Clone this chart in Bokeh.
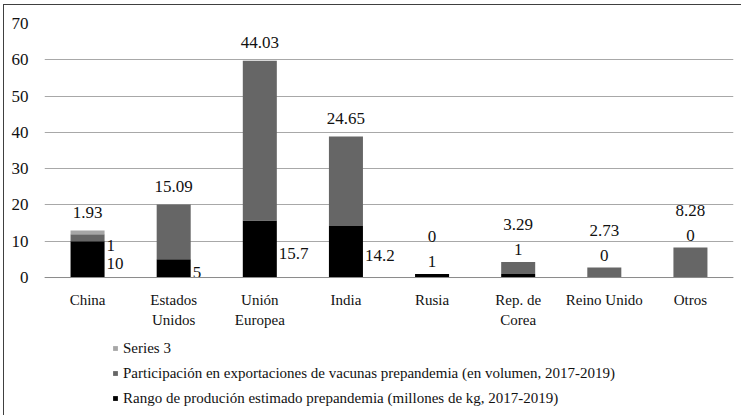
from bokeh.plotting import figure
from bokeh.models import (ColumnDataSource, Legend, LegendItem, Range1d, FactorRange,
                          FixedTicker, Span)
from bokeh.core.properties import value
from bokeh.embed import file_html
from bokeh.resources import INLINE

categories = ["China", "Estados Unidos", "Unión Europea", "India", "Rusia",
              "Rep. de Corea", "Reino Unido", "Otros"]
label_line1 = ["China", "Estados", "Unión", "India", "Rusia", "Rep. de", "Reino Unido", "Otros"]
label_line2 = ["", "Unidos", "Europea", "", "", "Corea", "", ""]
produccion = [10, 5, 15.7, 14.2, 1, 1, 0, 0]
exportaciones = [1.93, 15.09, 44.03, 24.65, 0, 3.29, 2.73, 8.28]
series3 = [1, 0, 0, 0, 0, 0, 0, 0]
y_ticks = [0, 10, 20, 30, 40, 50, 60, 70]

name_prod = "Rango de produción estimado prepandemia (millones de kg, 2017-2019)"
name_exp = "Participación en exportaciones de vacunas prepandemia (en volumen, 2017-2019)"
name_s3 = "Series 3"

FONT = "Liberation Serif"
TXT = "#111111"
C_PROD = "#000000"
C_EXP = "#666666"
C_S3 = "#a6a6a6"

def fmt(v):
    return f"{v:g}"

zeros = [0] * len(categories)
src = ColumnDataSource(dict(cat=categories, prod=produccion, exp=exportaciones, s3=series3))

# the frame extends below zero so category labels and legend sit inside it
p = figure(x_range=FactorRange(*categories), y_range=Range1d(-38.3, 70),
           width=738, height=411, output_backend="svg", toolbar_location=None,
           min_border_left=40, min_border_right=9, min_border_top=18, min_border_bottom=0)
p.styles = {"border-left": "1px solid #404040", "border-top": "1px solid #404040",
            "margin-left": "3px", "margin-top": "4px"}
p.outline_line_color = None

rs = p.vbar_stack(["prod", "exp", "s3"], x="cat", width=0.395, source=src,
                  color=[C_PROD, C_EXP, C_S3], line_color=None)

# data labels
big_x, big_y, big_t = [], [], []
s3_x, s3_y, s3_t = [], [], []
top_x, top_y, top_t = [], [], []
sm_x, sm_y, sm_t = [], [], []
smtop_x, smtop_y, smtop_t = [], [], []
for c, a, b, s in zip(categories, produccion, exportaciones, series3):
    total = a + b + s
    if a > 2:
        big_x.append(c); big_y.append(a / 2); big_t.append(fmt(a))
        top_x.append(c); top_y.append(total); top_t.append(fmt(b))
        if s > 0:
            s3_x.append(c); s3_y.append(a / 2); s3_t.append(fmt(s))
    else:
        sm_x.append(c); sm_y.append(total); sm_t.append(fmt(a))
        smtop_x.append(c); smtop_y.append(total); smtop_t.append(fmt(b))

common = dict(text_font=value(FONT), text_font_size="17px", text_color=TXT,
              text_baseline="middle")
p.text(x=big_x, y=big_y, text=big_t, text_align="left", x_offset=19, y_offset=4, **common)
p.text(x=s3_x, y=s3_y, text=s3_t, text_align="left", x_offset=19, y_offset=-14, **common)
p.text(x=top_x, y=top_y, text=top_t, text_align="center", y_offset=-18, **common)
p.text(x=sm_x, y=sm_y, text=sm_t, text_align="center", y_offset=-12, **common)
p.text(x=smtop_x, y=smtop_y, text=smtop_t, text_align="center", y_offset=-37, **common)

# category labels (two lines) below the zero line
cat_style = dict(text_font=value(FONT), text_font_size="15px", text_color=TXT,
                 text_baseline="middle", text_align="center")
p.text(x=categories, y=zeros, text=label_line1, y_offset=22, **cat_style)
p.text(x=categories, y=zeros, text=label_line2, y_offset=42, **cat_style)

# axes
p.yaxis.ticker = FixedTicker(ticks=y_ticks)
p.yaxis.axis_line_color = None
p.yaxis.major_tick_line_color = None
p.yaxis.minor_tick_line_color = None
p.yaxis.major_label_standoff = 10
p.yaxis.major_label_text_font = FONT
p.yaxis.major_label_text_font_size = "17px"
p.yaxis.major_label_text_color = TXT
p.xaxis.visible = False

p.xgrid.grid_line_color = None
p.ygrid.grid_line_color = "#a8a8a8"
p.ygrid.grid_line_width = 1
p.add_layout(Span(location=0, dimension="width", line_color="#8c8c8c", line_width=1))

legend = Legend(items=[LegendItem(label=name_s3, renderers=[rs[2]]),
                       LegendItem(label=name_exp, renderers=[rs[1]]),
                       LegendItem(label=name_prod, renderers=[rs[0]])],
                location=(68, 8), orientation="vertical",
                label_text_font=FONT, label_text_font_size="15px", label_text_color=TXT,
                glyph_width=6, glyph_height=6, label_standoff=5, label_height=20,
                spacing=5, padding=0, margin=0, border_line_color=None,
                background_fill_alpha=0)
p.add_layout(legend, "center")

open("out.html", "w").write(file_html(p, INLINE))
